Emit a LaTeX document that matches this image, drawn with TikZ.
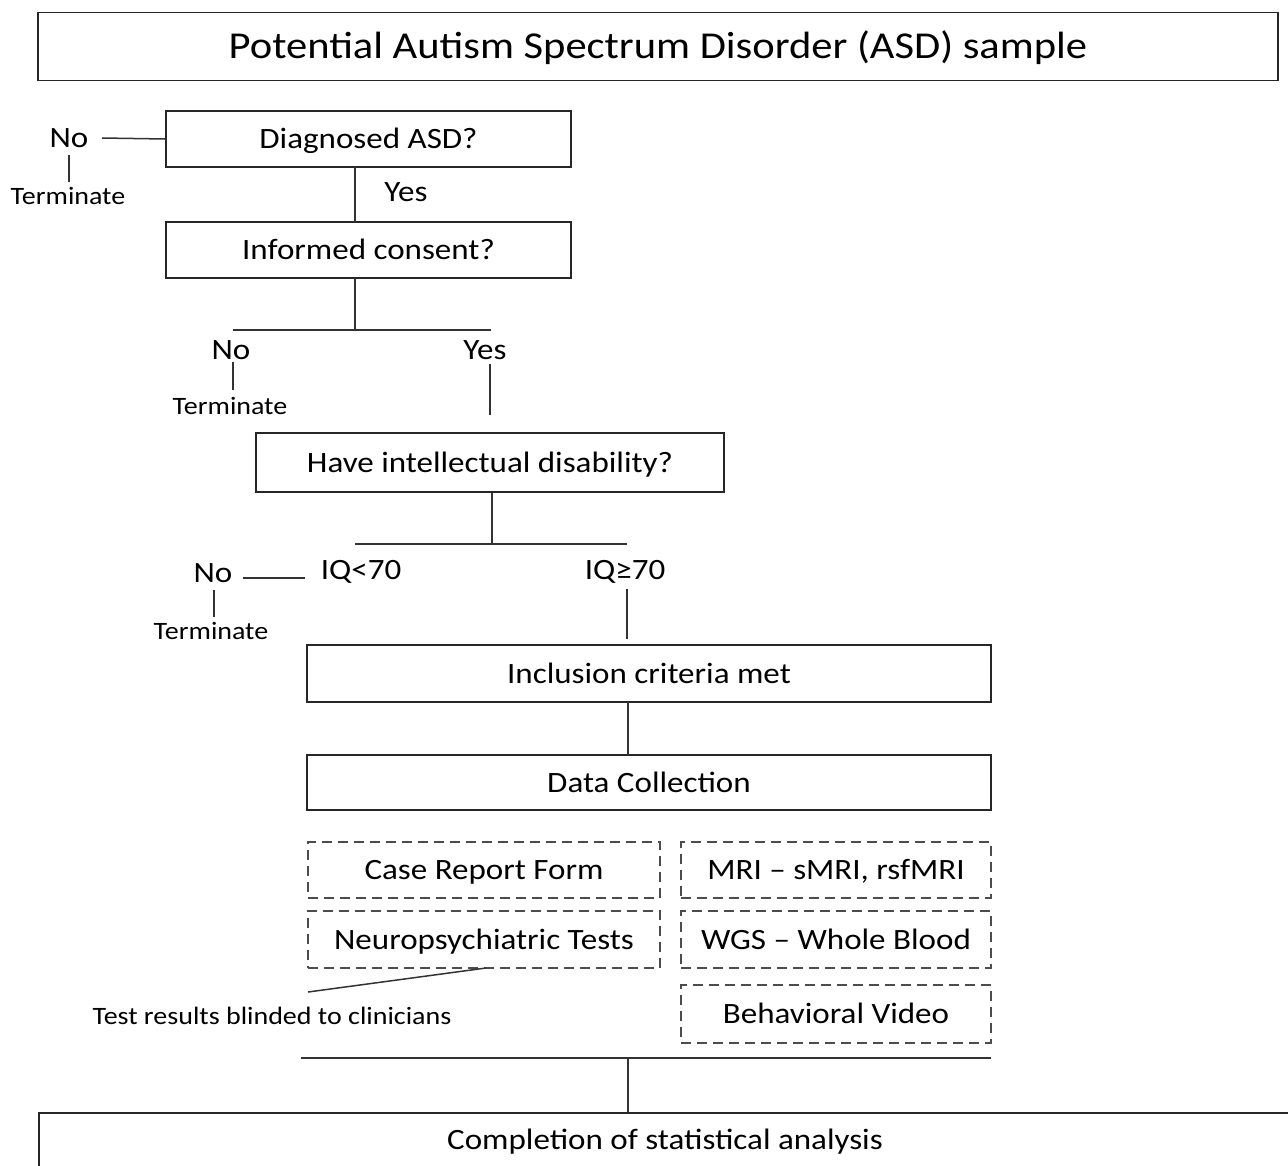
\documentclass[tikz,border=0pt]{standalone}
\usepackage{fontspec}
\setmainfont[FakeStretch=1.12]{Carlito}
\begin{document}
\begin{tikzpicture}[x=1pt,y=-1pt,
  capc/.style={text height=19pt,text depth=0pt},
  box/.style={draw=black!85,line width=1.8pt,inner sep=0pt,capc,font=\fontsize{29.5}{33}\selectfont},
  dbox/.style={draw=black!70,line width=1.8pt,dash pattern=on 10pt off 6pt,inner sep=0pt,capc,font=\fontsize{29.5}{33}\selectfont},
  lbl/.style={inner sep=0pt,capc,font=\fontsize{29.5}{33}\selectfont},
  term/.style={inner sep=0pt,text height=16pt,text depth=0pt,font=\fontsize{25}{29}\selectfont},
  ln/.style={draw=black!80,line width=1.5pt}]
\useasboundingbox (0,0) rectangle (1288,1165);
\fill[white] (0,0) rectangle (1288,1165);

% boxes
\node[box,minimum width=1240pt,minimum height=68pt,text height=24.5pt,font=\fontsize{38}{42}\selectfont] (title) at (658,46.5) {Potential Autism Spectrum Disorder (ASD) sample};
\node[box,minimum width=405pt,minimum height=56pt] (diag) at (368.5,139) {Diagnosed ASD?};
\node[box,minimum width=405pt,minimum height=56pt] (cons) at (368.5,250) {Informed consent?};
\node[box,minimum width=468pt,minimum height=59pt] (intel) at (490,462.5) {Have intellectual disability?};
\node[box,minimum width=684pt,minimum height=57pt] (incl) at (649,673.5) {Inclusion criteria met};
\node[box,minimum width=684pt,minimum height=55pt] (data) at (649,782.5) {Data Collection};

\node[dbox,minimum width=352pt,minimum height=56pt] (crf) at (484,870) {Case Report Form};
\node[dbox,minimum width=352pt,minimum height=57pt] (neuro) at (484,939.5) {Neuropsychiatric Tests};
\node[dbox,minimum width=310pt,minimum height=56pt] (mri) at (836,870) {MRI -- sMRI, rsfMRI};
\node[dbox,minimum width=310pt,minimum height=57pt] (wgs) at (836,939.5) {WGS -- Whole Blood};
\node[dbox,minimum width=310pt,minimum height=58pt] (video) at (836,1014) {Behavioral Video};

\node[box,anchor=north west,minimum width=1300pt,minimum height=80pt,text height=0pt] (stat) at (38,1112) {};
\node[lbl] (stattxt) at (665,1140) {Completion of statistical analysis};

% labels
\node[lbl] (no1) at (69,138) {No};
\node[term] (t1) at (68,196) {Terminate};
\node[lbl] (yes1) at (406,192) {Yes};
\node[lbl] (no2) at (231,350) {No};
\node[term] (t2) at (230,406) {Terminate};
\node[lbl] (yes2) at (485,350) {Yes};
\node[lbl] (iqlow) at (361,570) {IQ<70};
\node[lbl] (iqhigh) at (625,570) {IQ≥70};
\node[lbl] (no3) at (213,573) {No};
\node[term] (t3) at (211,631) {Terminate};
\node[term] (blind) at (272,1016) {Test results blinded to clinicians};

% coordinates
\coordinate (j1) at (355,330);
\coordinate (j1l) at (233,330);
\coordinate (j1r) at (491,330);
\coordinate (j2) at (492,544);
\coordinate (j2l) at (355,544);
\coordinate (j2r) at (627,544);
\coordinate (j3) at (628,1058);
\coordinate (j3l) at (301,1058);
\coordinate (j3r) at (991,1058);
\coordinate (bl) at (308,992);

% connectors
\draw[ln] (diag.west) -- (102,138);
\draw[ln] (69,155) -- (69,182);
\draw[ln] (355,167) -- (355,222);
\draw[ln] (355,278) -- (j1);
\draw[ln] (j1l) -- (j1r);
\draw[ln] (233,362) -- (233,390);
\draw[ln] (490,364) -- (490,415);
\draw[ln] (j2 |- intel.south) -- (j2);
\draw[ln] (j2l) -- (j2r);
\draw[ln] (243,578) -- (305,578);
\draw[ln] (214,590) -- (214,617);
\draw[ln] (627,589) -- (627,639);
\draw[ln] (628,702) -- (628,755);
\draw[ln] (486,968) -- (bl);
\draw[ln] (j3l) -- (j3r);
\draw[ln] (j3) -- (628,1112);
\end{tikzpicture}
\end{document}
